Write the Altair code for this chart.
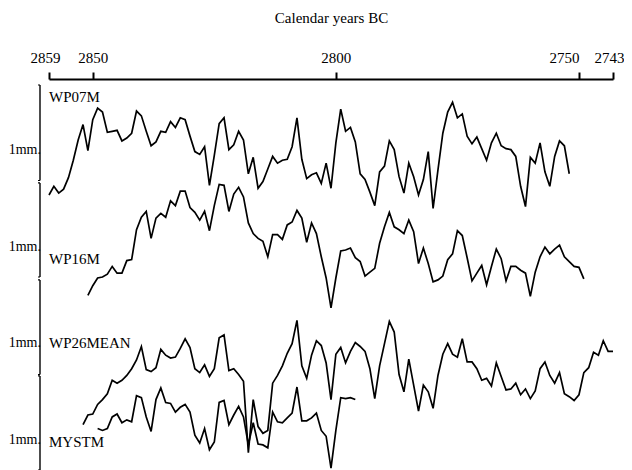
import altair as alt
import pandas as pd

# ---- data (ring-width curves, mm relative to each curve's 1 mm scale bar) ----
series_names = ["WP07M", "WP16M", "WP26MEAN", "MYSTM"]
start_years = [2859, 2851, 2852, 2849]
offsets = [3, 2, 1, 0]  # vertical stacking of the curves (mm)

wp07m = [-0.15, -0.06, -0.13, -0.09, 0.03, 0.21, 0.42, 0.58, 0.31, 0.63,
         0.75, 0.71, 0.50, 0.51, 0.52, 0.41, 0.44, 0.49, 0.72, 0.67,
         0.51, 0.36, 0.40, 0.51, 0.50, 0.61, 0.55, 0.65, 0.63, 0.46,
         0.30, 0.27, 0.35, -0.05, 0.26, 0.59, 0.65, 0.32, 0.37, 0.51,
         0.42, 0.07, 0.24, -0.08, -0.01, 0.12, 0.25, 0.18, 0.21, 0.22,
         0.35, 0.65, 0.22, 0.02, 0.06, 0.08, -0.03, 0.18, -0.08, 0.39,
         0.74, 0.51, 0.55, 0.40, 0.07, 0.01, -0.12, -0.26, 0.09, 0.15,
         0.41, 0.32, 0.04, -0.13, 0.18, 0.04, -0.15, 0.01, 0.30, -0.29,
         0.11, 0.49, 0.71, 0.81, 0.65, 0.69, 0.46, 0.38, 0.45, 0.33,
         0.21, 0.39, 0.49, 0.36, 0.33, 0.32, 0.25, -0.06, -0.27, 0.24,
         0.18, 0.39, 0.09, -0.06, 0.25, 0.41, 0.36, 0.07]

wp16m = [-0.19, -0.09, -0.01, 0.00, 0.03, 0.11, 0.04, 0.04, 0.17, 0.18,
         0.49, 0.62, 0.68, 0.40, 0.61, 0.66, 0.62, 0.79, 0.74, 0.89,
         0.89, 0.72, 0.67, 0.59, 0.68, 0.48, 0.74, 0.96, 0.95, 0.68,
         0.86, 0.93, 0.83, 0.56, 0.45, 0.40, 0.37, 0.21, 0.44, 0.44,
         0.39, 0.54, 0.57, 0.69, 0.61, 0.36, 0.56, 0.45, 0.21, -0.01,
         -0.32, -0.01, 0.27, 0.28, 0.30, 0.20, 0.16, 0.01, 0.05, 0.09,
         0.35, 0.52, 0.67, 0.52, 0.49, 0.45, 0.59, 0.47, 0.14, 0.30,
         0.14, -0.05, -0.03, 0.01, 0.18, 0.24, 0.48, 0.43, 0.20, -0.04,
         0.04, 0.12, -0.08, 0.11, 0.29, 0.19, -0.04, 0.11, 0.11, 0.07,
         0.04, -0.20, 0.05, 0.21, 0.31, 0.24, 0.29, 0.33, 0.21, 0.16,
         0.11, 0.10, -0.02]

wp26mean = [-0.53, -0.43, -0.42, -0.32, -0.27, -0.21, -0.07, -0.10, -0.07, -0.02,
            0.05, 0.14, 0.28, 0.04, 0.02, 0.06, 0.25, 0.19, 0.16, 0.17,
            0.26, 0.36, 0.27, 0.05, 0.01, 0.09, -0.03, 0.05, 0.37, 0.40,
            0.03, 0.05, -0.01, -0.08, -0.82, -0.27, -0.55, -0.62, -0.59, -0.10,
            -0.02, 0.08, 0.21, 0.31, 0.55, 0.08, -0.05, 0.19, 0.34, 0.29,
            0.11, -0.27, 0.20, 0.27, 0.11, 0.23, 0.32, 0.28, 0.23, 0.05,
            -0.26, 0.08, 0.31, 0.54, 0.43, -0.01, -0.19, 0.15, -0.12, -0.39,
            -0.12, -0.19, -0.36, -0.02, 0.20, 0.31, 0.20, 0.17, 0.36, 0.12,
            0.12, 0.05, -0.07, -0.05, -0.13, 0.11, -0.03, -0.17, -0.16, -0.10,
            -0.22, -0.16, -0.26, -0.18, 0.05, 0.12, -0.02, -0.10, 0.01, -0.21,
            -0.24, -0.28, -0.22, 0.01, 0.06, 0.22, 0.19, 0.34, 0.23, 0.23]

mystm = [0.43, 0.41, 0.43, 0.55, 0.58, 0.49, 0.52, 0.50, 0.77, 0.75,
         0.55, 0.40, 0.73, 0.85, 0.70, 0.69, 0.60, 0.65, 0.68, 0.60,
         0.36, 0.28, 0.43, 0.21, 0.29, 0.70, 0.72, 0.47, 0.57, 0.66,
         0.55, 0.26, 0.49, 0.27, 0.26, 0.23, 0.60, 0.50, 0.49, 0.54,
         0.59, 0.86, 0.51, 0.51, 0.54, 0.59, 0.41, 0.35, 0.02, 0.41,
         0.75, 0.74, 0.75, 0.73]

tick_years = [2859, 2850, 2800, 2750, 2743]
series_label_pos = [3.865, 2.19, 1.316, 0.29]   # mm position of the curve names
scale_label_pos = [3.32, 2.31, 1.316, 0.31]     # mm position of the "1mm." labels
bar_lo = [3.0, 2.0, 0.99, 0.0]                  # 1 mm scale bars
bar_hi = [3.99, 2.975, 1.97, 0.975]

all_values = [wp07m, wp16m, wp26mean, mystm]

rows = []
for name, start, vals, off in zip(series_names, start_years, all_values, offsets):
    for i, v in enumerate(vals):
        rows.append({"series": name, "year": start - i, "pos": v + off})
df = pd.DataFrame(rows)

labels_df = pd.DataFrame({"series": series_names, "pos": series_label_pos})
scale_df = pd.DataFrame({"txt": ["1mm."] * 4, "pos": scale_label_pos,
                         "lo": bar_lo, "hi": bar_hi})

FONT = "Liberation Serif"
W, H = 564, 391
PX_PER_MM = 96.5
Y_TOP = 4.052

xscale = alt.Scale(domain=[2743, 2859], reverse=True, nice=False, zero=False)
yscale = alt.Scale(domain=[Y_TOP - H / PX_PER_MM, Y_TOP], nice=False, zero=False)

x_enc = alt.X("year:Q", scale=xscale,
              axis=alt.Axis(orient="top", values=tick_years, format="d",
                            title="Calendar years BC", titleFont=FONT,
                            titleFontSize=15, titleFontWeight="normal",
                            titleColor="black", titlePadding=25,
                            labelFont=FONT, labelFontSize=15, labelColor="black",
                            labelBaseline="alphabetic", labelPadding=10,
                            labelAlign={"condition": {"test": "datum.value == 2750",
                                                      "value": "right"},
                                        "value": "center"},
                            labelOffset={"condition": {"test": "datum.value == 2859 || datum.value == 2743",
                                                       "value": -4},
                                         "value": 0},
                            tickSize=7, tickWidth=2, tickColor="black",
                            domainWidth=2, domainColor="black", grid=False,
                            labelFlush=False, labelOverlap=False))

lines = alt.Chart(df).mark_line(color="black", strokeWidth=1.7, clip=False).encode(
    x=x_enc,
    y=alt.Y("pos:Q", scale=yscale, axis=None),
    detail="series:N",
    order="year:Q",
)

names = alt.Chart(labels_df).mark_text(
    align="left", baseline="middle", font=FONT, fontSize=15, color="black"
).encode(x=alt.value(0), y=alt.Y("pos:Q", scale=yscale), text="series:N")

bars = alt.Chart(scale_df).mark_rule(color="black", strokeWidth=1.4, clip=False).encode(
    x=alt.value(-9), y=alt.Y("lo:Q", scale=yscale), y2="hi:Q"
)
bar_top = alt.Chart(scale_df).mark_rule(color="black", strokeWidth=1.2, clip=False).encode(
    x=alt.value(-11), x2=alt.value(-9), y=alt.Y("hi:Q", scale=yscale)
)
bar_bot = alt.Chart(scale_df).mark_rule(color="black", strokeWidth=1.2, clip=False).encode(
    x=alt.value(-11), x2=alt.value(-9), y=alt.Y("lo:Q", scale=yscale)
)
mm_text = alt.Chart(scale_df).mark_text(
    align="right", baseline="middle", font=FONT, fontSize=14, color="black"
).encode(x=alt.value(-8), y=alt.Y("pos:Q", scale=yscale), text="txt:N")

chart = alt.layer(lines, names, bars, bar_top, bar_bot, mm_text).properties(
    width=W, height=H,
    autosize=alt.AutoSizeParams(type="none"),
    padding={"left": 41, "top": 71, "right": 11, "bottom": 0},
).configure(background="white").configure_view(strokeWidth=0)

chart.save("out.html", embed_options={"renderer": "svg", "actions": False})
